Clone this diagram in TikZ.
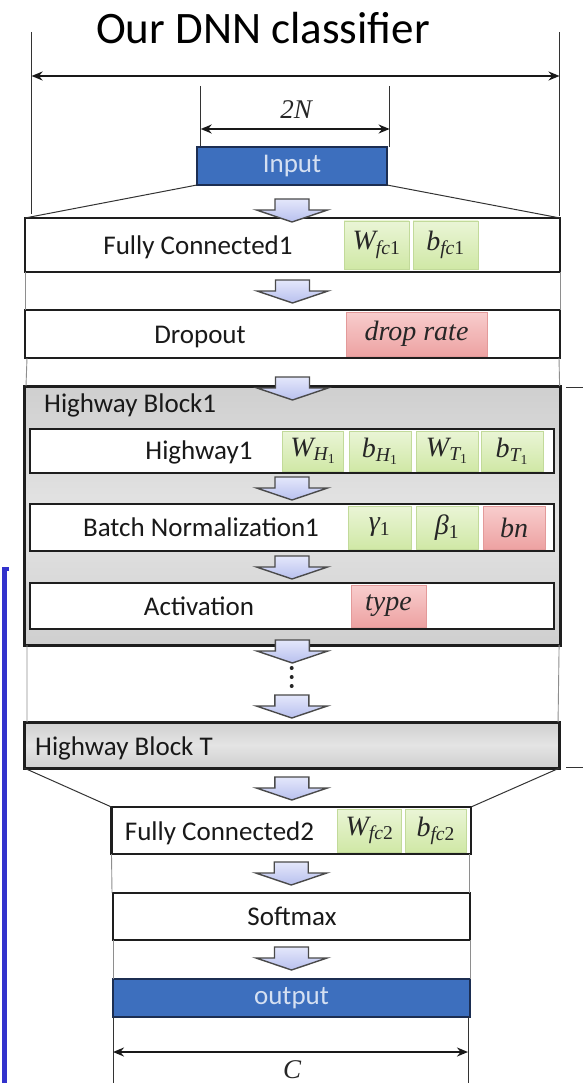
\RequirePackage{fix-cm}
\documentclass[tikz,border=0pt]{standalone}
\usepackage{fontspec}
\setmainfont{Carlito}
\newfontfamily\parfont{Liberation Serif}
\usetikzlibrary{arrows.meta,calc}

% italic symbol with a subscript, set in the serif face
\newcommand\pvar[2]{{\parfont\itshape #1\textsubscript{#2}}}
\newcommand\pword[1]{{\parfont\itshape #1}}

\definecolor{boxline}{HTML}{1E1E1E}
\definecolor{inblue}{HTML}{3D6FBE}
\definecolor{inborder}{HTML}{1C2E52}
\definecolor{intext}{HTML}{D5E0F2}
\definecolor{parGreenTop}{HTML}{EAF5D6}
\definecolor{parGreenBot}{HTML}{D0E8A6}
\definecolor{parGreenEdge}{HTML}{C2DA9A}
\definecolor{parPinkTop}{HTML}{F8CDCD}
\definecolor{parPinkBot}{HTML}{EDA2A2}
\definecolor{parPinkEdge}{HTML}{E39A9A}
\definecolor{hwgray}{HTML}{CFCFCF}
\definecolor{hwlight}{HTML}{E4E4E4}
\definecolor{arrTop}{HTML}{E4E7FB}
\definecolor{arrBot}{HTML}{B8C0EE}
\definecolor{arrLine}{HTML}{4A4A4A}
\definecolor{sideblue}{HTML}{3232CC}
\definecolor{guide}{HTML}{8E8E8E}

\tikzset{
  layerbox/.style={draw=boxline, line width=2.2pt, fill=white, inner sep=0pt, outer sep=0pt},
  blockbox/.style={draw=boxline, line width=3pt, top color=hwgray, bottom color=hwgray,
                   middle color=hwlight, inner sep=0pt, outer sep=0pt},
  databox/.style={draw=inborder, line width=2pt, fill=inblue, inner sep=0pt, outer sep=0pt,
                  text=intext, font=\fontsize{27}{32}\selectfont},
  lbl/.style={inner sep=0pt, text=black!90, font=\fontsize{27}{32}\selectfont,
              text height=17.5pt, text depth=0pt},
  greenpar/.style={draw=parGreenEdge, line width=0.8pt, top color=parGreenTop,
                   bottom color=parGreenBot, inner sep=0pt, text=black!85,
                   font=\fontsize{28}{33}\selectfont},
  pinkpar/.style={draw=parPinkEdge, line width=0.8pt, top color=parPinkTop,
                  bottom color=parPinkBot, inner sep=0pt, text=black!85,
                  font=\fontsize{28}{33}\selectfont},
  extline/.style={draw=black!80, line width=1pt},
  guideline/.style={draw=guide, line width=0.9pt},
  dimarrow/.style={draw=black!90, line width=2pt,
                   arrows={Stealth[length=11pt,width=9pt]-Stealth[length=11pt,width=9pt]}},
  mathlbl/.style={inner sep=0pt, text=black!85, font=\fontsize{27}{32}\selectfont},
  pics/flowarrow/.style={code={
    \path[draw=arrLine, line width=1.4pt, top color=arrTop, bottom color=arrBot, line join=miter]
      (-17,0) -- (17,0) -- (17,11) -- (35.5,11) -- (0,23) -- (-35.5,11) -- (-17,11) -- cycle;
  }}
}

\begin{document}
\begin{tikzpicture}[x=1pt,y=-1pt]
\useasboundingbox (0,0) rectangle (583,1083);

% title
\node[inner sep=0pt, anchor=base, font=\fontsize{45}{54}\selectfont] (title) at (263,44) {Our DNN classifier};

% overall width dimension
\coordinate (extLtop) at (31.6,32);  \coordinate (extLbot) at (31.6,214);
\coordinate (extRtop) at (559.5,32); \coordinate (extRbot) at (559.5,216);
\draw[extline] (extLtop) -- (extLbot);
\draw[extline] (extRtop) -- (extRbot);
\coordinate (dimL) at (31.6,76); \coordinate (dimR) at (559.5,76);
\draw[dimarrow] (dimL) -- (dimR);

% input width dimension
\coordinate (inLtop) at (200.7,86);  \coordinate (inLbot) at (200.7,147);
\coordinate (inRtop) at (389.6,86);  \coordinate (inRbot) at (389.6,147);
\draw[extline] (inLtop) -- (inLbot);
\draw[extline] (inRtop) -- (inRbot);
\coordinate (inDimL) at (200.7,129); \coordinate (inDimR) at (389.6,129);
\draw[dimarrow] (inDimL) -- (inDimR);
\node[mathlbl] (lblTwoN) at (296,110) {\pword{2N}};

% layer boxes
\node[databox, minimum width=190pt, minimum height=38pt] (input) at (292,166) {Input};
\node[layerbox, minimum width=535pt, minimum height=54pt] (fc1) at (292.5,245) {};
\node[layerbox, minimum width=535pt, minimum height=48pt] (drop) at (292.5,334) {};
\node[blockbox, minimum width=536.6pt, minimum height=259pt] (hb1) at (292.3,515.5) {};
\node[layerbox, minimum width=524pt, minimum height=44pt] (hw1) at (292,451) {};
\node[layerbox, minimum width=524pt, minimum height=47pt] (bn1) at (292,527.5) {};
\node[layerbox, minimum width=524pt, minimum height=46pt] (act) at (292,606) {};
\node[blockbox, minimum width=535.5pt, minimum height=46pt] (hbt) at (291.8,745) {};
\node[layerbox, minimum width=359.5pt, minimum height=47pt] (fc2) at (291.25,830.5) {};
\node[layerbox, minimum width=357pt, minimum height=47pt] (soft) at (291.5,916.5) {};
\node[databox, minimum width=357pt, minimum height=38pt] (out) at (291.5,998) {output};

% funnel lines
\draw[extline] (input.south west) -- (fc1.north west);
\draw[extline] (input.south east) -- (fc1.north east);
\draw[extline] (hbt.south west) -- (fc2.north west);
\draw[extline] (hbt.south east) -- (fc2.north east);

% side guides between stacked layers
\draw[guideline] (fc1.south west) -- (drop.north west);
\draw[guideline] (fc1.south east) -- (drop.north east);
\draw[guideline] ([xshift=2pt]drop.south west) -- ([xshift=2pt]hb1.north west);
\draw[guideline] ([xshift=-1pt]drop.south east) -- ([xshift=-1pt]hb1.north east);
\draw[guideline] ([xshift=3pt]hb1.south west) -- ([xshift=3pt]hbt.north west);
\draw[guideline] ([xshift=-1.5pt]hb1.south east) -- ([xshift=-1.5pt]hbt.north east);
\draw[guideline] (fc2.south west) -- ([xshift=-1pt]soft.north west);
\draw[guideline] ([xshift=-2pt]fc2.south east) -- ([xshift=-1pt]soft.north east);
\draw[guideline] (soft.south west) -- (out.north west);
\draw[guideline] (soft.south east) -- (out.north east);

% layer names
\node[lbl] (fc1lbl) at (198,246) {Fully Connected1};
\node[lbl] (droplbl) at (200,335) {Dropout};
\node[lbl, anchor=west] (hb1lbl) at (44,404) {Highway Block1};
\node[lbl] (hw1lbl) at (199,451) {Highway1};
\node[lbl] (bn1lbl) at (201,528) {Batch Normalization1};
\node[lbl] (actlbl) at (199,607) {Activation};
\node[lbl, anchor=west] (hbtlbl) at (35,747) {Highway Block T};
\node[lbl] (fc2lbl) at (219.5,832) {Fully Connected2};
\node[lbl] (softlbl) at (292,917) {Softmax};

% trainable parameters and hyper-parameters
\node[greenpar, minimum width=65pt, minimum height=48pt] (wfc1) at (376.5,245) {\pvar{W}{fc\upshape 1}};
\node[greenpar, minimum width=65pt, minimum height=48pt] (bfc1) at (445.5,245) {\pvar{b}{fc\upshape 1}};
\node[pinkpar, minimum width=141pt, minimum height=44pt] (rate) at (416.5,334) {\pword{drop rate}};
\node[greenpar, minimum width=61.5pt, minimum height=40pt] (wh) at (313,451) {\pvar{W}{H\textsubscript{\upshape 1}}};
\node[greenpar, minimum width=62pt, minimum height=40pt] (bh) at (380,451) {\pvar{b}{H\textsubscript{\upshape 1}}};
\node[greenpar, minimum width=62pt, minimum height=40pt] (wt) at (447,451) {\pvar{W}{T\textsubscript{\upshape 1}}};
\node[greenpar, minimum width=62pt, minimum height=40pt] (bt) at (512,451) {\pvar{b}{T\textsubscript{\upshape 1}}};
\node[greenpar, minimum width=63pt, minimum height=43pt] (gam) at (379.5,527.5) {\pvar{γ}{\upshape 1}};
\node[greenpar, minimum width=62pt, minimum height=43pt] (bet) at (447,527.5) {\pvar{β}{\upshape 1}};
\node[pinkpar, minimum width=62pt, minimum height=43pt] (bnp) at (514,527.5) {\pword{bn}};
\node[pinkpar, minimum width=75pt, minimum height=42pt] (atype) at (388.5,606) {\pword{type}};
\node[greenpar, minimum width=64pt, minimum height=43pt] (wfc2) at (369.5,830.5) {\pvar{W}{fc\upshape 2}};
\node[greenpar, minimum width=61.5pt, minimum height=43pt] (bfc2) at (435.75,830.5) {\pvar{b}{fc\upshape 2}};

% flow arrows between layers
\pic at ([yshift=-14pt]input.south) {flowarrow};
\pic at ([yshift=-8pt]fc1.south) {flowarrow};
\pic at ([yshift=-19pt]drop.south) {flowarrow};
\pic at ([yshift=-4pt]hw1.south) {flowarrow};
\pic at ([yshift=-5pt]bn1.south) {flowarrow};
\pic at ([yshift=5pt]hb1.south) {flowarrow};
\pic at ([yshift=27pt]hbt.north) {flowarrow};
\pic at ([yshift=-9pt]hbt.south) {flowarrow};
\pic at ([yshift=-8pt]fc2.south) {flowarrow};
\pic at ([yshift=-7pt]soft.south) {flowarrow};

% more highway blocks
\foreach \dy [count=\i] in {668,677,686} {
  \fill[black!85] (291.7,\dy) circle (2pt) coordinate (dot\i);
}

% output width dimension
\coordinate (outLtop) at (113,1017);  \coordinate (outLbot) at (113,1083);
\coordinate (outRtop) at (468,1017);  \coordinate (outRbot) at (468,1083);
\draw[extline] (outLtop) -- (outLbot);
\draw[extline] (outRtop) -- (outRbot);
\coordinate (outDimL) at (113,1052); \coordinate (outDimR) at (468,1052);
\draw[dimarrow] (outDimL) -- (outDimR);
\node[mathlbl] (lblC) at (292,1070) {\pword{C}};

% brace stubs at the right margin
\coordinate (stubA) at (566,387); \coordinate (stubAend) at (583,387);
\coordinate (stubB) at (566,767); \coordinate (stubBend) at (583,767);
\draw[extline] (stubA) -- (stubAend);
\draw[extline] (stubB) -- (stubBend);

% side frame
\coordinate (frameTop) at (9,569); \coordinate (frameCorner) at (4.5,569);
\coordinate (frameBot) at (4.5,1083);
\draw[sideblue, line width=4.5pt] (frameTop) -- (frameCorner) -- (frameBot);
\end{tikzpicture}
\end{document}
